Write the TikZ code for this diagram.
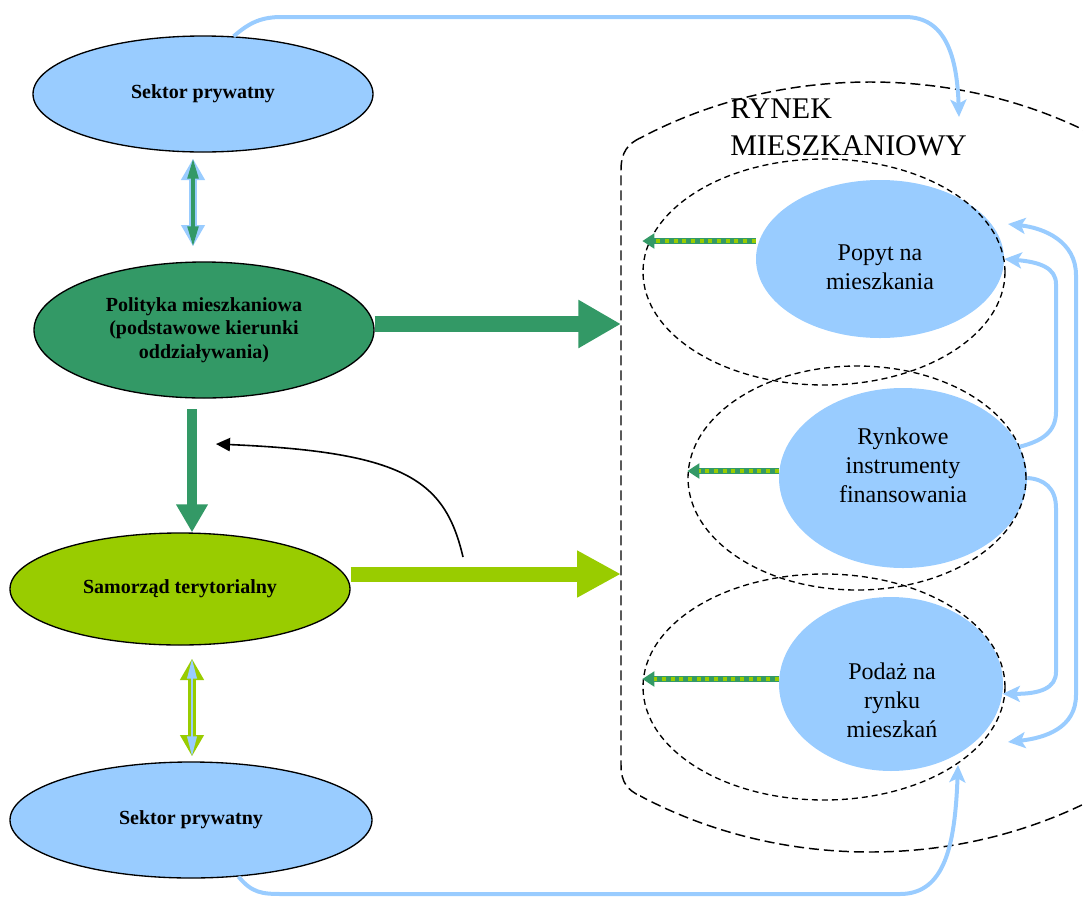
\documentclass[tikz,border=0pt]{standalone}
\usepackage{fontspec}
\setmainfont{Liberation Serif}
\usetikzlibrary{shapes.geometric,arrows.meta}
\definecolor{lblue}{HTML}{99CCFF}
\definecolor{dgreen}{HTML}{339966}
\definecolor{ygreen}{HTML}{99CC00}

\begin{document}
\begin{tikzpicture}[x=0.75pt,y=-0.75pt,
  lnode/.style={ellipse,draw=black,line width=1pt,inner sep=0pt,align=center,font=\fontsize{15}{17.6}\selectfont\bfseries},
  rnode/.style={ellipse,fill=lblue,inner sep=0pt},
  rtext/.style={align=center,inner sep=0pt,font=\fontsize{18}{21.75}\selectfont},
  ring/.style={ellipse,draw=black,line width=1pt,dash pattern=on 4.5pt off 3pt,inner sep=0pt},
  mkt/.style={draw=black,line width=1.1pt,dash pattern=on 7.5pt off 3.75pt},
  bigarrow/.style={line width=12pt,-{Triangle[length=32pt,width=34pt]}},
  stripe/.style={draw=dgreen,line width=4.5pt,-{Triangle[length=9pt,width=11pt]},
    postaction={draw=ygreen,-,line width=3.5pt,dash pattern=on 3pt off 3.5pt,shorten >=9pt}},
  dblA/.style={draw=lblue,line width=6pt,{Triangle[length=16pt,width=17pt]}-{Triangle[length=16pt,width=17pt]},
    postaction={draw=dgreen,line width=2.5pt,{Triangle[length=15pt,width=8pt]}-{Triangle[length=15pt,width=8pt]}}},
  dblB/.style={draw=ygreen,line width=6pt,{Triangle[length=16pt,width=17pt]}-{Triangle[length=16pt,width=17pt]},
    postaction={draw=lblue,line width=2pt,{Triangle[length=15pt,width=7pt]}-{Triangle[length=15pt,width=7pt]}}},
  feed/.style={draw=lblue,line width=3pt,-{Stealth[length=13pt,width=12pt,inset=3pt]}},
  feedd/.style={draw=lblue,line width=3pt,{Stealth[length=13pt,width=12pt,inset=3pt]}-{Stealth[length=13pt,width=12pt,inset=3pt]}},
]
\useasboundingbox (0,0) rectangle (1083,897);

\begin{scope}
\clip (640,0) rectangle (1083,897);
\draw[mkt] (870,467) ellipse [x radius=331.5pt, y radius=288.75pt];
\end{scope}
\draw[mkt] (640,138) .. controls (628,144) and (621,152) .. (621,170) -- (621,765) .. controls (621,783) and (628,790) .. (640,796);
\node[align=left,anchor=north west,inner sep=0pt,font=\fontsize{22.5}{27.75}\selectfont] (rm) at (730,99) {RYNEK\\MIESZKANIOWY};

\node[lnode,fill=lblue,minimum width=255pt,minimum height=87pt] (sp1) at (203,94) {Sektor prywatny};
\node[lnode,fill=dgreen,minimum width=255pt,minimum height=102pt] (pm) at (204,330) {Polityka mieszkaniowa\\(podstawowe kierunki\\oddziaływania)};
\node[lnode,fill=ygreen,minimum width=255pt,minimum height=84pt] (st) at (180,589) {Samorząd terytorialny};
\node[lnode,fill=lblue,minimum width=271.5pt,minimum height=87pt] (sp2) at (191,820) {Sektor prywatny};

\node[rnode,minimum width=186pt,minimum height=118.5pt] (popyt) at (880,259) {};
\node[rnode,minimum width=186pt,minimum height=135pt] (rynk) at (903,478) {};
\node[rnode,minimum width=168pt,minimum height=130.5pt] (podaz) at (891,684) {};
\node[ring,minimum width=271.5pt,minimum height=169.5pt] (e1) at (824,272) {};
\node[ring,minimum width=253.5pt,minimum height=168pt] (e2) at (857,478) {};
\node[ring,minimum width=271.5pt,minimum height=169.5pt] (e3) at (824,687) {};
\node[rtext] (popytT) at (880,267) {Popyt na\\mieszkania};
\node[rtext] (rynkT) at (903,465) {Rynkowe\\instrumenty\\finansowania};
\node[rtext] (podazT) at (892,700) {Podaż na\\rynku\\mieszkań};

\coordinate (mleft) at (621,0);
\coordinate (b1) at ([yshift=4.5pt]pm.east);
\coordinate (b2) at ([yshift=11.25pt]st.east);
\draw[dgreen,bigarrow] (b1) -- (b1 -| mleft);
\draw[ygreen,line width=11.25pt,-{Triangle[length=33pt,width=33pt]}] (b2) -- (b2 -| mleft);

\coordinate (d1) at ([xshift=-7.5pt,yshift=-4.5pt]sp1.south);
\coordinate (d2) at ([xshift=9pt,yshift=-9.75pt]st.south);
\coordinate (d3) at ([xshift=-9pt,yshift=-8pt]pm.south);
\draw[dblA,shorten >=11.25pt] (d1) -- (d1 |- pm.north);
\draw[dblB,shorten >=3.75pt] (d2) -- (d2 |- sp2.north);
\draw[dgreen,line width=7.5pt,-{Triangle[length=21pt,width=22.5pt]}] (d3) -- (d3 |- st.north);

\coordinate (c1) at (463,557);
\coordinate (c2) at (216,444);
\draw[line width=1.2pt,-{Triangle[length=10.5pt,width=10pt]}] (c1) .. controls (445,480) and (405,452) .. (c2);

\coordinate (s1) at ([yshift=13.5pt]popyt.west);
\coordinate (s2) at ([yshift=5.25pt]rynk.west);
\coordinate (s3) at ([yshift=3.75pt]podaz.west);
\draw[stripe] (s1) -- (s1 -| e1.west);
\draw[stripe] (s2) -- (s2 -| e2.west);
\draw[stripe] (s3) -- (s3 -| e3.west);

\coordinate (mtop) at (959,117);
\coordinate (mbot) at (958,765);
\coordinate (ot) at (1008,224);
\coordinate (ob) at (1008,742);
\draw[feed] (sp1.62) .. controls (250,22) and (262,17) .. (282,17) -- (905,17) .. controls (945,17) and (957,55) .. (mtop);
\draw[feed] (sp2.-50) .. controls (252,893) and (262,894) .. (282,894) -- (900,894) .. controls (945,894) and (955,845) .. (mbot);
\draw[feed] (rynk.15) .. controls (1042,441) and (1056,432) .. (1056,412) -- (1056,284) .. controls (1056,268) and (1040,262) .. (popyt.east);
\draw[feed] (rynk.east) .. controls (1044,479) and (1056,488) .. (1056,508) -- (1056,672) .. controls (1056,688) and (1040,694) .. (podaz.-5);
\draw[feedd] (ot) .. controls (1045,228) and (1076,242) .. (1076,275) -- (1076,695) .. controls (1076,728) and (1045,738) .. (ob);
\end{tikzpicture}
\end{document}
